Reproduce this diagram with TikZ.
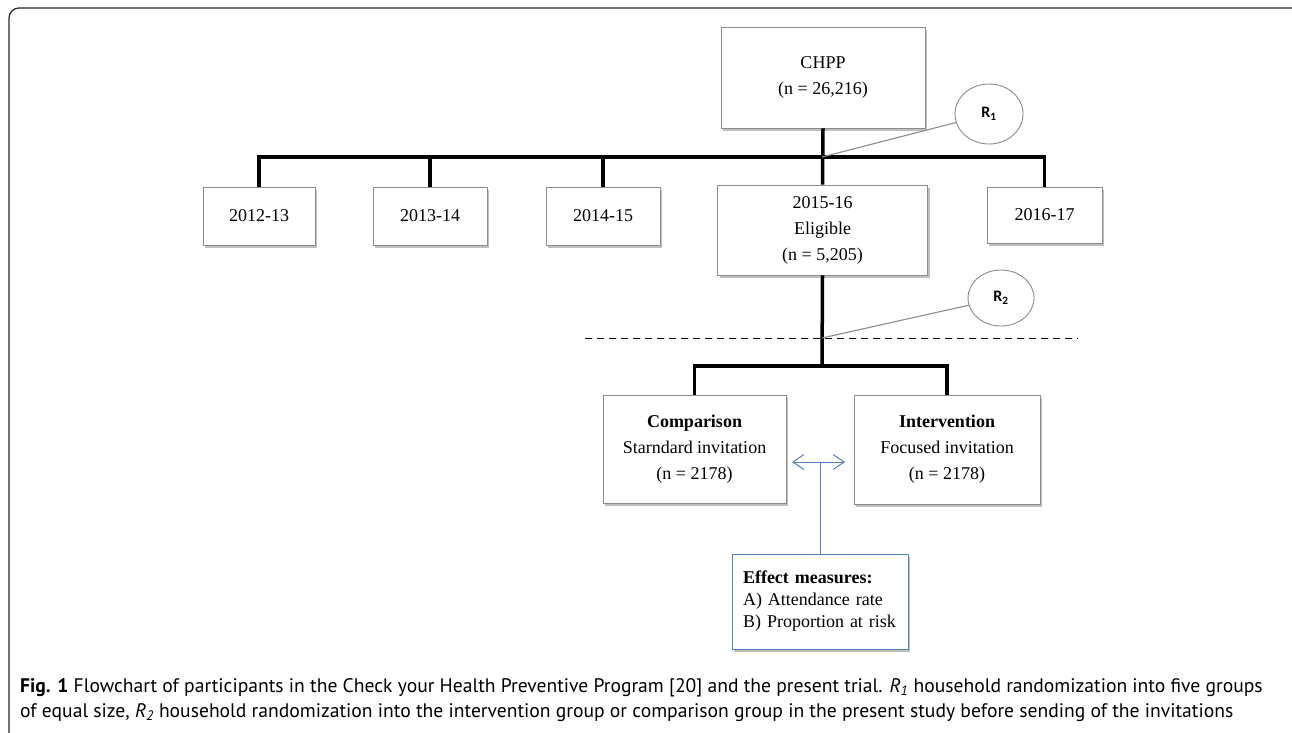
\documentclass[tikz,border=0pt]{standalone}
\usepackage{fontspec}
\setmainfont{Liberation Serif}
\newfontfamily\capfont{PT Sans}
\newfontfamily\rfont{Carlito}
\usetikzlibrary{arrows.meta,shapes.geometric,shadows}

\definecolor{boxgray}{RGB}{140,140,140}
\definecolor{effblue}{RGB}{79,129,189}

\begin{document}
\begin{tikzpicture}[x=1pt,y=-1pt,
    box/.style={draw=boxgray, line width=0.8pt, fill=white, align=center, inner sep=0pt,
        font=\fontsize{18}{26}\selectfont,
        drop shadow={shadow xshift=2pt, shadow yshift=-3pt, fill=black!50, opacity=0.5}},
    randnode/.style={ellipse, draw=boxgray, line width=0.9pt, fill=white, inner sep=0pt,
        font=\rfont\bfseries\fontsize{16}{18}\selectfont},
    trunk/.style={line width=3.5pt},
    pointer/.style={draw=boxgray, line width=1.1pt},
    measure/.style={draw=effblue, line width=1pt}]

        % Page and frame
        \useasboundingbox (0,0) rectangle (1292,732);
        \draw[line width=1.2pt, rounded corners=10pt, black!85] (9,8) rectangle (1310,750);

        % Top box
        \node[box, minimum width=204, minimum height=101] (chpp) at (823,77.5) {CHPP\\(n = 26,216)};

        % Five year groups
        \node[box, minimum width=112, minimum height=58] (y1213) at (259,216) {2012-13};
        \node[box, minimum width=114, minimum height=58] (y1314) at (430,216) {2013-14};
        \node[box, minimum width=114, minimum height=58] (y1415) at (603,216) {2014-15};
        \node[box, minimum width=210, minimum height=90] (y1516) at (822.5,230) {2015-16\\Eligible\\(n = 5,205)};
        \node[box, minimum width=115, minimum height=56] (y1617) at (1044.5,215) {2016-17};

        % Randomization circles
        \node[randnode, minimum width=68, minimum height=60] (r1) at (989,114) {R\textsubscript{1}};
        \node[randnode, minimum width=66, minimum height=56] (r2) at (1001,298) {R\textsubscript{2}};

        % Trial arms
        \node[box, minimum width=183, minimum height=108] (comp) at (694.5,449) {\textbf{Comparison}\\Starndard invitation\\(n = 2178)};
        \node[box, minimum width=186, minimum height=109] (interv) at (947,449.5) {\textbf{Intervention}\\Focused invitation\\(n = 2178)};

        % Effect measures
        \node[box, draw=effblue, align=left, text width=154, minimum width=176, minimum height=95,
            font=\fontsize{18}{22}\selectfont] (effect) at (820,601.5)
            {\textbf{Effect measures:}\\A) Attendance rate\\B) Proportion at risk};

        % Junction points
        \coordinate (bus) at (822,157);
        \coordinate (split) at (822,338);
        \coordinate (fork) at (822,366);
        \coordinate (tapL) at (792,462);
        \coordinate (tapR) at (845,462);

        % First split
        \draw[trunk] (chpp.south) -- (y1516.north);
        \draw[trunk] (y1213.north) |- (bus) -| (y1617.north);
        \draw[trunk] (y1314.north) -- (y1314.north |- bus);
        \draw[trunk] (y1415.north) -- (y1415.north |- bus);
        \draw[pointer] (r1) -- (bus);

        % Second split
        \draw[dash pattern=on 7pt off 5pt, line width=1pt] (585,338) -- (1078,338);
        \draw[trunk] (y1516.south) -- (fork);
        \draw[trunk] (comp.north) |- (fork) -| (interv.north);
        \draw[pointer] (r2) -- (split);

        % Comparison of arms
        \draw[measure, {Straight Barb[length=11pt,width=15pt]}-{Straight Barb[length=11pt,width=15pt]}] (tapL) -- (tapR);
        \draw[measure] (effect.north) -- (effect.north |- tapL);

        % Caption
        \node[anchor=base west, inner sep=0pt, font=\capfont\fontsize{19.6}{23}\selectfont] (cap1) at (20,692)
            {\textbf{Fig. 1} Flowchart of participants in the Check your Health Preventive Program [20] and the present trial. \textit{R\textsubscript{1}} household randomization into five groups};
        \node[anchor=base west, inner sep=0pt, font=\capfont\fontsize{19.6}{23}\selectfont] (cap2) at (20,717)
            {of equal size, \textit{R\textsubscript{2}} household randomization into the intervention group or comparison group in the present study before sending of the invitations};

    \end{tikzpicture}
\end{document}
